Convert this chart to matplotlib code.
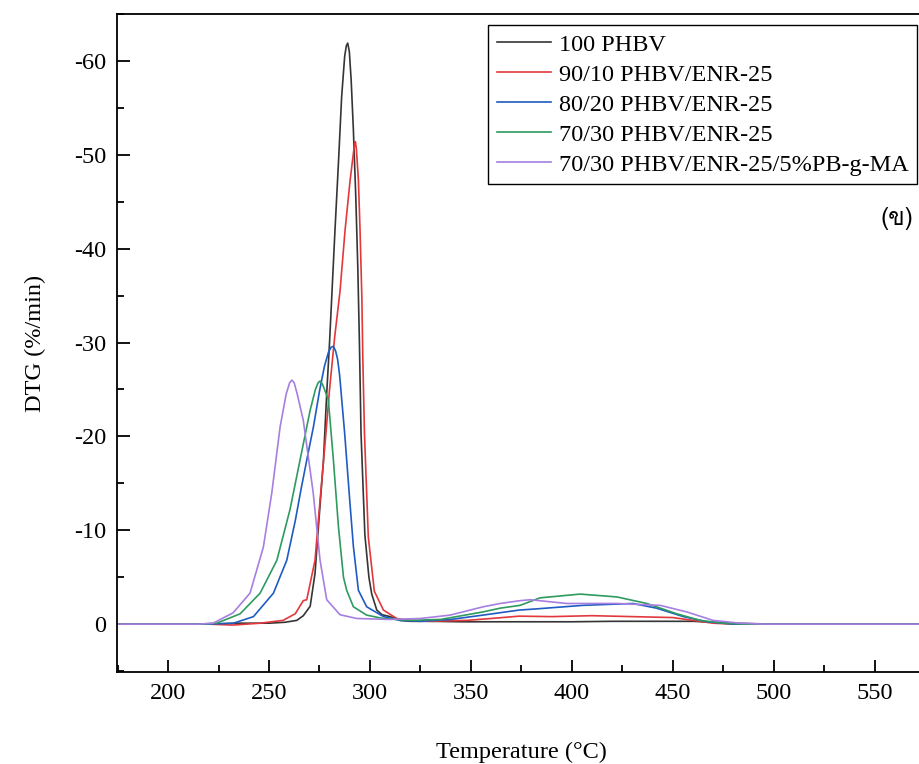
import matplotlib
matplotlib.use("Agg")
import matplotlib.pyplot as plt
from matplotlib.ticker import MultipleLocator
from matplotlib import font_manager
from matplotlib.ft2font import FT2Font

# ---------------- data ----------------
labels = ["100 PHBV", "90/10 PHBV/ENR-25", "80/20 PHBV/ENR-25",
          "70/30 PHBV/ENR-25", "70/30 PHBV/ENR-25/5%PB-g-MA"]
colors = ["#353535", "#e2383c", "#1f5cc2", "#2e9a60", "#a77fe0"]

t_phbv = [175, 190, 205, 220, 235, 250, 258, 263.8, 267, 270.4, 272.8, 274.5, 277, 278.6,
          280.0, 281.1, 282.7, 284.4, 286.0, 287.5, 288.3, 289.0, 289.8, 290.7, 291.8,
          293.0, 294.0, 294.8, 295.6, 297.5, 299.5, 300.9, 303.4, 306, 310, 315, 320, 330,
          345, 360, 380, 400, 420, 440, 460, 480, 500, 530, 560, 575]
d_phbv = [0, 0, 0, 0, -0.1, -0.1, -0.2, -0.4, -0.9, -1.9, -5.4, -10.4, -17.5, -24.6,
          -30.0, -34.9, -42.0, -49.1, -56.2, -60.5, -61.6, -61.9, -61.0, -58.0, -52.7,
          -45.5, -38.0, -30.0, -20.3, -9.5, -5.0, -3.2, -1.5, -1.0, -0.8, -0.4, -0.3, -0.3,
          -0.25, -0.25, -0.25, -0.25, -0.3, -0.3, -0.3, -0.1, 0, 0, 0, 0]

t_90 = [175, 190, 205, 220, 232, 245.6, 257, 260.4, 263, 267, 268.7, 272.8, 275.3, 277.8,
        280.0, 282.5, 285.2, 287.7, 290.2, 292.0, 292.5, 292.8, 293.3, 294.3, 295.1,
        296.0, 296.5, 297.3, 299.2, 302.2, 306.7, 313.3, 320, 330, 348, 360, 374, 390,
        410, 430, 450, 460, 470, 480, 500, 530, 560, 575]
d_90 = [0, 0, 0, 0, 0.1, -0.1, -0.4, -0.8, -1.1, -2.5, -2.6, -6.8, -13.2, -19.3,
        -25.0, -30.5, -35.5, -42.0, -47.3, -50.5, -51.2, -51.4, -50.6, -47.3, -42.0,
        -34.9, -28.1, -20.3, -9.3, -3.5, -1.5, -0.6, -0.4, -0.3, -0.4, -0.6, -0.85, -0.8,
        -0.9, -0.8, -0.7, -0.4, -0.1, 0, 0, 0, 0, 0]

t_80 = [175, 190, 205, 220, 232.4, 242.3, 252.2, 258.8, 263, 266, 269, 272, 275, 277.5,
        279.5, 280.8, 281.9, 283.0, 284.0, 285.0, 287.5, 290, 291.8, 294.3, 298.4, 306.7,
        315, 325, 340, 356, 374, 381, 405.6, 430.4, 442, 455.3, 467, 480, 500, 530, 560,
        575]
d_80 = [0, 0, 0, 0, -0.1, -0.8, -3.3, -6.8, -11.0, -14.5, -17.8, -21.0, -24.8, -27.5,
        -29.0, -29.5, -29.6, -29.1, -28.2, -26.5, -20.3, -13.2, -8.3, -3.6, -1.85, -0.8,
        -0.4, -0.3, -0.5, -0.96, -1.5, -1.6, -2.0, -2.2, -1.7, -0.8, -0.25, 0, 0, 0, 0,
        0]

t_70 = [175, 190, 205, 215, 224.1, 235.7, 245.6, 253.9, 260.4, 265.4, 270.4, 273, 274.3,
        275.3, 276.4, 277.5, 279.4, 281.9, 284.4, 286.9, 288.5, 291.8, 298.4, 306.5, 320,
        335, 356, 364.5, 374.4, 384.3, 404.1, 422.3, 437.2, 452, 463.6, 475, 485, 500,
        530, 560, 575]
d_70 = [0, 0, 0, 0, -0.1, -1.1, -3.3, -6.8, -12.2, -17.5, -22.8, -25.0, -25.7,
        -25.9, -25.6, -25.0, -23.9, -17.5, -10.4, -5.0, -3.6, -1.85, -0.96, -0.6, -0.4,
        -0.5, -1.3, -1.7, -2.0, -2.8, -3.2, -2.9, -2.2, -1.1, -0.4, -0.1, 0, 0,
        0, 0, 0]

t_pb = [175, 190, 205, 215, 222.3, 232.2, 240.6, 247.2, 251.4, 255.5, 258.5, 260.2, 261.3,
        262.5, 264, 267, 271.9, 275.3, 278.6, 285.2, 293.5, 310, 325, 339.7, 356.2, 364.5,
        374.4, 379.4, 397.5, 422.3, 443.8, 457, 470, 483.4, 495, 520, 545, 575]
d_pb = [0, 0, 0, 0, -0.1, -1.2, -3.3, -8.2, -14.0, -21.0, -24.5, -25.7, -26.0,
        -25.7, -24.5, -21.7, -14.0, -6.8, -2.6, -1.0, -0.6, -0.5, -0.6, -0.96, -1.85, -2.2,
        -2.5, -2.6, -2.2, -2.2, -2.0, -1.3, -0.4, -0.1, 0, 0, 0, 0]

xticks = [200, 250, 300, 350, 400, 450, 500, 550]
yticks = [0, -10, -20, -30, -40, -50, -60]

series = [(t_phbv, d_phbv), (t_90, d_90), (t_80, d_80), (t_70, d_70), (t_pb, d_pb)]

# ---------------- fonts ----------------
plt.rcParams["font.family"] = ["Liberation Serif", "DejaVu Serif"]

thai_family = None
for f in font_manager.fontManager.ttflist:
    try:
        if ord("ข") in FT2Font(f.fname).get_charmap():
            thai_family = f.name
            break
    except Exception:
        pass

FS = 17.5

# ---------------- figure ----------------
W, H = 919, 764
fig = plt.figure(figsize=(W / 100, H / 100), dpi=100)
left, right, top, bottom = 117, 925, 14, 672
ax = fig.add_axes([left / W, 1 - bottom / H, (right - left) / W, (bottom - top) / H])

for (t, d), c, lab in zip(series, colors, labels):
    ax.plot(t, d, color=c, lw=1.2, label=lab)

ax.set_xlim(174.7, 575)
ax.set_ylim(5.1, -65.0)
ax.set_xticks(xticks)
ax.set_yticks(yticks)
ax.set_yticklabels([str(v) for v in yticks])
ax.xaxis.set_minor_locator(MultipleLocator(25))
ax.yaxis.set_minor_locator(MultipleLocator(5))
ax.tick_params(which="both", direction="in", top=False, right=False, labelsize=FS, width=1.3)
ax.tick_params(which="major", length=9, pad=8)
ax.tick_params(which="minor", length=5)
for s in ax.spines.values():
    s.set_linewidth(1.3)

ax.set_xlabel("Temperature (°C)", fontsize=FS, labelpad=27)
ax.set_ylabel("DTG (%/min)", fontsize=FS, labelpad=20)

leg = ax.legend(loc="upper right", bbox_to_anchor=(917 / W, 1 - 25 / H),
                bbox_transform=fig.transFigure, fontsize=FS, frameon=True,
                fancybox=False, edgecolor="black", framealpha=1,
                handlelength=2.25, handletextpad=0.3, labelspacing=0.33,
                borderpad=0.35, borderaxespad=0)
leg.get_frame().set_linewidth(1.0)

fam = [thai_family, "Liberation Serif"] if thai_family else ["Liberation Serif"]
fig.text(913 / W, 1 - 218 / H, "(ข)", ha="right", va="center", fontsize=FS, family=fam)

fig.savefig("out.png", dpi=100)
